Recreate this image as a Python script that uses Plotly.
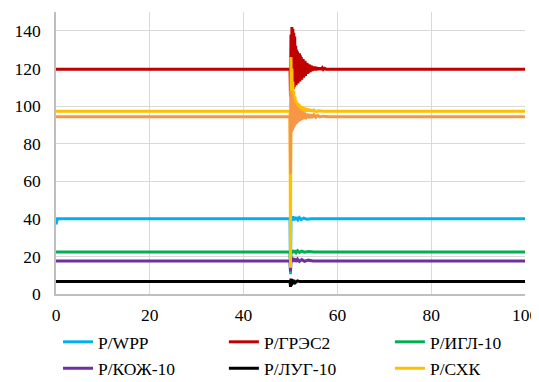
import plotly.graph_objects as go

# ---- data ----
t_wpp = [0, 0.3, 49.9, 50.0, 50.1, 50.3, 50.5, 50.7, 50.9, 51.1, 51.3, 51.6, 51.9, 52.3, 52.8, 53.5, 54.5, 100]
p_wpp = [37, 40, 40, 10.5, 41.5, 39, 41.3, 39.2, 41, 39.4, 40.8, 39.5, 40.6, 39.6, 40.4, 39.8, 40, 40]

t_gres = [0, 49.9, 50.0, 50.1, 50.2, 50.3, 50.4, 50.5, 50.6, 50.7, 50.8, 50.9, 51.0,
          51.1, 51.2, 51.3, 51.4, 51.5, 51.6, 51.7, 51.8, 51.9, 52.0,
          52.1, 52.2, 52.3, 52.4, 52.5, 52.6, 52.7, 52.8, 52.9, 53.0,
          53.1, 53.2, 53.3, 53.4, 53.5, 53.6, 53.7, 53.8, 53.9, 54.0,
          54.1, 54.2, 54.3, 54.4, 54.5, 54.6, 54.7, 54.8, 54.9, 55.0,
          55.2, 55.4, 55.6, 55.8, 56.0, 56.2, 56.4, 56.6, 56.8, 57.0, 57.3, 57.6, 58.0, 100]
p_gres = [119.5, 119.5, 105, 138, 110, 142, 108, 141, 109, 139, 110, 137, 111,
          132, 111, 130, 112, 129, 112, 128, 113, 128, 113,
          127, 114, 126, 114, 125, 115, 125, 115, 124, 116,
          124, 116, 123, 117, 123, 117, 122.5, 117.5, 122, 118,
          122, 118, 121.5, 118.5, 121.5, 118.5, 121, 119, 121, 119,
          121, 119, 120.6, 119.1, 120.5, 119.2, 120.4, 119.3, 120.2, 119.4, 120, 119.5, 119.5, 119.5]

t_igl = [0, 49.9, 50.0, 50.1, 50.3, 50.5, 50.7, 50.9, 51.2, 51.5, 51.9, 52.4, 53.0, 53.8, 55.0, 100]
p_igl = [22.3, 22.3, 12, 23.5, 21.8, 23.3, 21.9, 23.1, 22, 23, 22.1, 22.8, 22.2, 22.6, 22.3, 22.3]

t_koz = [0, 49.9, 50.0, 50.1, 50.3, 50.5, 50.7, 50.9, 51.2, 51.5, 51.9, 52.4, 53.0, 53.8, 54.8, 100]
p_koz = [17.6, 17.6, 12, 19.8, 17, 19.2, 17.1, 18.8, 17.2, 18.5, 17.3, 18.3, 17.4, 18.0, 17.6, 17.6]

t_lug = [0, 49.9, 50.0, 50.1, 50.2, 50.3, 50.5, 50.7, 51.0, 51.5, 52.0, 100]
p_lug = [6.6, 6.6, 3.8, 8.2, 4.5, 7.8, 5.2, 7.3, 6.0, 7.0, 6.6, 6.6]

t_shk = [0, 49.9, 50.0, 50.1, 50.2, 50.3, 50.4, 50.5, 50.6, 50.7, 50.8, 50.9, 51.0,
         51.1, 51.2, 51.3, 51.4, 51.5, 51.6, 51.7, 51.8, 51.9, 52.0,
         52.1, 52.2, 52.3, 52.4, 52.5, 52.6, 52.7, 52.8, 52.9, 53.0,
         53.2, 53.4, 53.6, 53.8, 54.0, 54.2, 54.4, 54.6, 54.8, 55.0, 55.5, 56.0, 57.0, 100]
p_shk = [97.2, 97.2, 14, 126, 104, 120, 101, 113, 99, 108, 98, 105, 104,
         96, 103, 96, 102, 96.5, 101.5, 96.5, 101, 96.5, 100.5,
         96.5, 100, 96.5, 100, 96.8, 99.5, 96.8, 99.5, 96.8, 99,
         97, 98.8, 97, 98.5, 97, 98.3, 97, 98, 97, 97.8, 97, 97.5, 97.2, 97.2]

t_or = [0, 49.9, 50.0, 50.1, 50.2, 50.3, 50.4, 50.5, 50.6, 50.7, 50.8, 50.9, 51.0,
        51.1, 51.2, 51.3, 51.4, 51.5, 51.6, 51.7, 51.8, 51.9, 52.0,
        52.2, 52.4, 52.6, 52.8, 53.0, 53.2, 53.4, 53.6, 53.8, 54.0,
        54.3, 54.6, 55.0, 55.4, 55.8, 56.2, 57.0, 58.0, 100]
p_or = [94.3, 94.3, 64, 108, 86, 106, 87, 104, 88, 102, 89, 101, 90,
        100, 90.5, 99.5, 91, 99, 91.5, 98.5, 92, 98, 92,
        97.5, 92.5, 97, 93, 96.5, 93, 96, 93.5, 95.8, 93.5,
        95.5, 93.8, 95.3, 94, 95, 94.2, 94.6, 94.3, 94.3]

series_names = ["P/WPP", "P/ГРЭС2", "P/ИГЛ-10", "P/КОЖ-10", "P/ЛУГ-10", "P/СХК", ""]
series_colors = ["#00B0F0", "#C00000", "#00B050", "#7030A0", "#000000", "#FFC000", "#F79646"]
x_ticks = [0, 20, 40, 60, 80, 100]
y_ticks = [0, 20, 40, 60, 80, 100, 120, 140]

series_t = [t_wpp, t_gres, t_igl, t_koz, t_lug, t_shk, t_or]
series_p = [p_wpp, p_gres, p_igl, p_koz, p_lug, p_shk, p_or]

# legend grid: 3 columns x 2 rows below the plot (one legend box per entry)
legend_ids = ["legend", "legend2", "legend3", "legend4", "legend5", "legend6"]
legend_cols = [0.0043, 0.358, 0.712]
legend_rows = [-0.17, -0.264]

fig = go.Figure()
for i, (name, col, tx, py) in enumerate(zip(series_names, series_colors, series_t, series_p)):
    has_leg = i < len(legend_ids)
    kw = dict(legend=legend_ids[i]) if has_leg else {}
    fig.add_trace(go.Scatter(
        x=tx, y=py, mode="lines", name=name,
        line=dict(color=col, width=3),
        showlegend=has_leg, **kw,
    ))

font = dict(family="Liberation Serif", size=17.5, color="#000000")

legends = {}
for i, lid in enumerate(legend_ids):
    legends[lid] = dict(
        orientation="h", x=legend_cols[i % 3], xanchor="left",
        y=legend_rows[i // 3], yanchor="middle",
        font=font, bgcolor="rgba(0,0,0,0)",
    )

# the page body has an 8px margin, so the figure is sized/positioned accordingly
fig.update_layout(
    width=531, height=374,
    margin=dict(l=48, r=14, t=4, b=88, autoexpand=False),
    paper_bgcolor="white", plot_bgcolor="white",
    font=font,
    showlegend=True,
    **legends,
)
fig.update_xaxes(
    range=[0, 100], tickvals=x_ticks, ticktext=[str(v) for v in x_ticks],
    showgrid=True, gridcolor="#D9D9D9", gridwidth=1,
    showline=True, linecolor="#BFBFBF", linewidth=1.5,
    zeroline=False, ticks="", ticklabelstandoff=4, tickfont=font,
    ticklabeloverflow="allow",
)
fig.update_yaxes(
    range=[0, 150], tickvals=y_ticks, ticktext=[str(v) for v in y_ticks],
    showgrid=True, gridcolor="#D9D9D9", gridwidth=1,
    showline=True, linecolor="#BFBFBF", linewidth=1.5,
    zeroline=False, ticks="", ticklabelstandoff=10, tickfont=font,
)

fig.write_html("out.html")
